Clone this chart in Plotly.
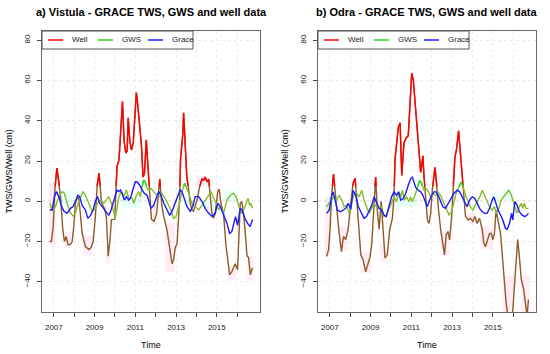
import plotly.graph_objects as go

# ---------------- data ----------------
THR = 7.5  # level above which the lines appear in their pure colours

vis_well_t = [2006.80, 2006.88, 2006.97, 2007.05, 2007.15, 2007.25, 2007.33, 2007.44, 2007.52, 2007.60,
              2007.70, 2007.82, 2007.90, 2007.98, 2008.06, 2008.18, 2008.27, 2008.39, 2008.55, 2008.72,
              2008.83, 2008.93, 2009.04, 2009.13, 2009.22, 2009.34, 2009.50, 2009.58, 2009.67, 2009.75,
              2009.83, 2009.99, 2010.10, 2010.20, 2010.37, 2010.45, 2010.53, 2010.60, 2010.65, 2010.73,
              2010.81, 2010.90, 2011.05, 2011.10, 2011.18, 2011.30, 2011.38, 2011.45, 2011.54, 2011.66,
              2011.79, 2011.92, 2012.05, 2012.20, 2012.30, 2012.40, 2012.55, 2012.70, 2012.80, 2012.88,
              2012.96, 2013.05, 2013.18, 2013.22, 2013.28, 2013.33, 2013.37, 2013.45, 2013.53, 2013.62,
              2013.70, 2013.78, 2013.86, 2014.03, 2014.15, 2014.27, 2014.35, 2014.43, 2014.52, 2014.60,
              2014.68, 2014.76, 2014.84, 2014.92, 2015.05, 2015.12, 2015.20, 2015.33, 2015.45, 2015.63,
              2015.74, 2015.90, 2016.02, 2016.15, 2016.23, 2016.31, 2016.40, 2016.48, 2016.56, 2016.64,
              2016.69, 2016.75]
vis_well_v = [-20, -20, -12.6, 5.6, 16.5, 9.7, 2.3, -14, -20, -17.5,
              -21.7, -21.3, -20, -12.6, -1, 3, -2.7, -16, -22.5, -24,
              -23, -20, -7.6, 8, 14, -0.7, -4, -8, -27.3, -20,
              -9.1, -9, 17.3, 20.6, 49.5, 30, 24, 25, 41.5, 30,
              25.5, 29, 54, 50, 40.4, 28, 12, 14, 30.5, 11,
              -9, -10, -6, 11, -2, -7.6, -14, -24, -31, -29,
              -23, -21, 2, 21, 28, 33, 44, 29, 12, 5.6,
              -1, -4.3, -5, 0.6, 7, 11, 10.5, 12, 9.7, 11,
              2.3, -6, -8.5, -6, 5, 6, -1, -6, -22, -36.5,
              -35, -31, -34, -1, -0.2, -6, -16, -27, -28, -36.5,
              -35, -33]

vis_gws_t = [2006.80, 2006.92, 2007.08, 2007.25, 2007.41, 2007.52, 2007.65, 2007.82, 2007.95, 2008.06,
             2008.22, 2008.44, 2008.55, 2008.72, 2008.88, 2009.04, 2009.15, 2009.29, 2009.45, 2009.58,
             2009.70, 2009.86, 2010.02, 2010.19, 2010.30, 2010.43, 2010.56, 2010.68, 2010.84, 2010.92,
             2011.03, 2011.16, 2011.25, 2011.33, 2011.41, 2011.49, 2011.58, 2011.66, 2011.77, 2011.90,
             2012.07, 2012.19, 2012.30, 2012.46, 2012.64, 2012.75, 2012.88, 2013.00, 2013.14, 2013.29,
             2013.42, 2013.62, 2013.78, 2013.94, 2014.11, 2014.27, 2014.43, 2014.60, 2014.72, 2014.84,
             2014.97, 2015.09, 2015.20, 2015.33, 2015.50, 2015.66, 2015.82, 2015.95, 2016.07, 2016.19,
             2016.32, 2016.45, 2016.53, 2016.62, 2016.67, 2016.75]
vis_gws_v = [-1, -4.3, -2.7, 2.3, 4.8, 4, -1, -6, -7.3, -6,
             0, 4.8, 3, -1, -5, -3.5, -1, 0.6, -1, 0.6,
             2.3, -2, -8.5, 2.3, 4.8, 2.3, 5.6, 1.5, 1.5, -1,
             2.3, 4.8, 2.3, 7, 10.5, 9.7, 6.4, 5.6, 6.4, 4.8,
             3, 2.3, 4, 1.5, -2.6, -4.3, -8.5, -7.6, -2, 4.8,
             8.9, 4, -1, -2.6, -4.3, -2, 0.6, 3, 4.8, 1.5,
             -1, -4.3, -2.6, -6, 0.6, 3, 4, 2.3, -2.6, -6,
             -4.3, -1, 1.5, -2, -1, -3.5]

vis_grace_t = [2006.80, 2006.92, 2007.03, 2007.13, 2007.25, 2007.36, 2007.50, 2007.65, 2007.82, 2007.95,
               2008.06, 2008.18, 2008.27, 2008.39, 2008.55, 2008.67, 2008.80, 2008.93, 2009.04, 2009.15,
               2009.25, 2009.37, 2009.53, 2009.70, 2009.81, 2009.94, 2010.10, 2010.19, 2010.27, 2010.35,
               2010.46, 2010.56, 2010.68, 2010.76, 2010.89, 2011.00, 2011.08, 2011.22, 2011.33, 2011.44,
               2011.58, 2011.66, 2011.77, 2011.90, 2012.03, 2012.15, 2012.26, 2012.40, 2012.56, 2012.69,
               2012.80, 2012.92, 2013.05, 2013.20, 2013.29, 2013.40, 2013.53, 2013.70, 2013.82, 2013.94,
               2014.11, 2014.27, 2014.43, 2014.60, 2014.76, 2014.92, 2015.04, 2015.17, 2015.33, 2015.50,
               2015.63, 2015.74, 2015.82, 2015.92, 2016.02, 2016.15, 2016.23, 2016.40, 2016.56, 2016.64,
               2016.75]
vis_grace_v = [-4.3, -4.3, 2.3, 4.8, 2.3, -2, -5, -6, -3.5, -2.6,
               0, 3, 2.3, -2, -4.3, -8.5, -7, -4.3, 0, 2.3,
               -1, -2.6, -5, -7, -4.3, 0.6, 5.6, 4.8, 5.6, 4,
               0.6, 2.3, 0.6, 1.5, 5.6, 9.7, 9.7, 8, 5.6, 4,
               3, 0, -3.5, -2, 1.5, 4.8, 3, -1, -4.3, -7,
               -5, -2, 1.5, 5.6, 4.8, 1.5, -2.6, -5, -2.6, 2.3,
               2.3, 0, -3.5, -6, -7.6, -6, -1, -2.6, -7, -11,
               -16, -15, -11.7, -7.6, -12, -3.5, -4.3, -9, -11.7, -12.6,
               -9]

odr_well_t = [2006.84, 2006.94, 2007.02, 2007.08, 2007.18, 2007.26, 2007.34, 2007.46, 2007.57, 2007.67,
              2007.78, 2007.90, 2008.03, 2008.14, 2008.24, 2008.32, 2008.41, 2008.52, 2008.63, 2008.76,
              2008.87, 2008.98, 2009.06, 2009.17, 2009.25, 2009.33, 2009.42, 2009.52, 2009.71, 2009.82,
              2009.94, 2010.07, 2010.15, 2010.20, 2010.27, 2010.36, 2010.45, 2010.53, 2010.64, 2010.75,
              2010.85, 2010.94, 2011.02, 2011.10, 2011.18, 2011.26, 2011.37, 2011.46, 2011.51, 2011.57,
              2011.62, 2011.70, 2011.79, 2011.87, 2011.95, 2012.03, 2012.16, 2012.24, 2012.32, 2012.44,
              2012.55, 2012.63, 2012.71, 2012.80, 2012.88, 2012.98, 2013.06, 2013.14, 2013.22, 2013.32,
              2013.42, 2013.50, 2013.58, 2013.66, 2013.79, 2013.90, 2014.02, 2014.12, 2014.23, 2014.35,
              2014.48, 2014.56, 2014.64, 2014.73, 2014.84, 2014.93, 2015.00, 2015.08, 2015.16, 2015.38,
              2015.54, 2015.65, 2015.75, 2015.90, 2015.98, 2016.08, 2016.14, 2016.22, 2016.30, 2016.40,
              2016.52, 2016.63, 2016.68, 2016.75]
odr_well_v = [-27.4, -24, -12.6, 2, 13.5, 5.5, -6, -16, -25, -17.5,
              -19, -14, -1, 8.8, 11.5, 2.2, -11, -26.6, -29, -35,
              -31.5, -27.4, -21, 2.2, 12, -4.4, -14, 0, -28.2, -26.6,
              -14, -8.5, 2.2, 21, 27.5, 36.6, 39, 12.8, 29, 31.6,
              32.5, 50.5, 63.6, 60, 49, 43, 27.5, 14.4, 17.7, 22.6,
              12.8, 2.2, -9.3, -11, -6, 5.5, 16.9, 8.8, -2.7, -14,
              -22.5, -26.6, -16.7, -15, -19.2, -7.6, 7, 21.8, 25.9, 35,
              22.6, 12.8, 2.2, -7.6, -9.3, -8.5, -10, -7.6, -11, -8.5,
              -14, -20.8, -22.5, -19.2, -16, -16, -19.2, -16, -4.4, -16,
              -37, -50, -58, -62, -54.5, -39, -27.4, -19, -27, -39,
              -44, -53.7, -57, -48.8]

odr_gws_t = [2006.84, 2006.97, 2007.08, 2007.20, 2007.33, 2007.46, 2007.59, 2007.70, 2007.82, 2007.95,
             2008.03, 2008.14, 2008.27, 2008.44, 2008.57, 2008.68, 2008.80, 2008.93, 2009.06, 2009.17,
             2009.29, 2009.42, 2009.55, 2009.66, 2009.79, 2009.90, 2010.03, 2010.15, 2010.27, 2010.40,
             2010.48, 2010.56, 2010.66, 2010.76, 2010.89, 2010.97, 2011.05, 2011.18, 2011.30, 2011.41,
             2011.51, 2011.62, 2011.74, 2011.84, 2011.95, 2012.06, 2012.19, 2012.30, 2012.43, 2012.60,
             2012.71, 2012.85, 2012.98, 2013.09, 2013.20, 2013.33, 2013.45, 2013.55, 2013.66, 2013.79,
             2013.90, 2014.02, 2014.15, 2014.26, 2014.40, 2014.48, 2014.59, 2014.72, 2014.84, 2014.97,
             2015.08, 2015.16, 2015.29, 2015.41, 2015.54, 2015.65, 2015.78, 2015.88, 2015.98, 2016.08,
             2016.19, 2016.30, 2016.40, 2016.47, 2016.55, 2016.63, 2016.75]
odr_gws_v = [-2.7, -1, 0.6, 2.2, 0.6, 3, 0.6, -2.7, -1.9, -6,
             -3.5, 2.2, 4.7, 2.2, 5.5, 0.6, -2.7, -6, -3.5, -1,
             -2.7, -3.5, -2.7, -7.6, -6.8, -3.5, -1, 2.2, -0.2, 4.7,
             2.2, 5.5, 0.6, 2.2, -0.2, 2.2, -0.2, 3, 7, 10.4,
             8.8, 5.5, 6.3, 4.7, 2.2, 3.9, 3, 4.7, 3, -1,
             -3.5, -6.8, -5.2, -0.2, 3.9, 7, 9.6, 7, 3, -0.2,
             -2.7, -4.4, -1.9, 0.6, 3, 5.5, 3, -0.2, -2.7, -4.4,
             -2.7, -6, -3.5, 0.6, 2.2, 3.9, 5.5, 3.9, 0.6, -3.5,
             -6, -2.7, -1, -3.5, -1, -3.5, -3.5]

odr_grace_t = [2006.84, 2006.97, 2007.08, 2007.16, 2007.26, 2007.37, 2007.54, 2007.67, 2007.78, 2007.91,
               2008.03, 2008.14, 2008.27, 2008.40, 2008.57, 2008.68, 2008.80, 2008.93, 2009.06, 2009.17,
               2009.29, 2009.42, 2009.54, 2009.66, 2009.77, 2009.90, 2010.03, 2010.15, 2010.27, 2010.37,
               2010.48, 2010.60, 2010.72, 2010.85, 2010.97, 2011.05, 2011.13, 2011.21, 2011.34, 2011.46,
               2011.57, 2011.67, 2011.78, 2011.87, 2012.00, 2012.11, 2012.22, 2012.32, 2012.43, 2012.55,
               2012.68, 2012.81, 2012.93, 2013.09, 2013.25, 2013.37, 2013.50, 2013.61, 2013.74, 2013.86,
               2013.99, 2014.12, 2014.23, 2014.35, 2014.48, 2014.60, 2014.72, 2014.84, 2014.97, 2015.05,
               2015.13, 2015.26, 2015.38, 2015.49, 2015.62, 2015.70, 2015.82, 2015.92, 2015.98, 2016.08,
               2016.19, 2016.30, 2016.43, 2016.57, 2016.68, 2016.75]
odr_grace_v = [-6, -4.4, 2.2, 4.7, 0.6, -4.4, -5.2, -4.4, -3.5, -1,
               -4, 5.5, 3, -2.7, -6.8, -8.5, -7.6, -4.4, -1.9, 2.2,
               -0.2, -3.5, -4.4, -6.8, -7.6, -2.7, 2.2, 4.7, 3, 4.7,
               0.6, 1.4, 3.9, 8, 11.3, 12, 9.6, 7, 5.5, 4.7,
               3, -0.2, -2.7, -0.2, 3, 4.7, 4.7, 3, -0.2, -2.7,
               -3.5, -1, 0.6, 3.9, 5.5, 4.7, 2.2, -0.2, -2.7, 0.6,
               2.2, 1.4, -1, -3.5, -5.2, -6, -6, -3.5, 0.6, 2.2,
               -0.2, -4.4, -6.8, -9.3, -13.4, -14, -11, -6, -9.3, -0.2,
               -1.9, -5.2, -6.8, -7.6, -6.8, -6]

# faint background bands: (start, end, low, high)
vis_pink = [(2006.75, 2007.10, -22.5, 9), (2007.55, 2007.85, -23, -15), (2008.45, 2008.90, -27, -17),
            (2009.55, 2009.75, -31, -26), (2011.85, 2012.00, -11, -2), (2012.45, 2012.95, -35, -11),
            (2014.00, 2014.60, 8, 12.5), (2015.55, 2015.95, -39, -32), (2016.50, 2016.80, -39, -27)]
vis_cyan = [(2007.30, 2007.90, -2.7, 5.5), (2008.15, 2008.60, 0, 5), (2010.30, 2011.30, -3.5, 2),
            (2013.40, 2013.70, -2, 2), (2014.40, 2014.90, -4.3, 0.6), (2015.40, 2015.90, 0, 5.5)]
odr_pink = [(2006.75, 2007.05, -27, 2), (2007.45, 2007.90, -25, -12.6), (2008.50, 2009.00, -35.7, -25),
            (2009.45, 2009.75, -30, -21), (2012.45, 2012.90, -27, -15), (2013.75, 2014.20, -11, -6),
            (2014.40, 2015.00, -24, -12.6), (2015.50, 2016.00, -55, -37), (2016.40, 2016.80, -55, -37)]
odr_cyan = [(2006.80, 2007.20, -4.4, 2.2), (2010.20, 2011.30, -2.7, 2.2), (2014.90, 2015.30, -1, 3.9),
            (2015.50, 2016.00, 0.6, 5.5)]

years = list(range(2007, 2017))
year_labels = [str(y) if y % 2 == 1 else "" for y in years]
y_ticks = [-40, -20, 0, 20, 40, 60, 80]

titles = ["a) Vistula - GRACE TWS, GWS and well data", "b) Odra - GRACE TWS, GWS and well data"]
series_names = ["Well", "GWS", "Grace"]

# ---------------- helpers ----------------
def split_above(x, y, thr):
    ox, oy = [], []
    for i in range(len(x)):
        if i > 0:
            y0, y1 = y[i - 1], y[i]
            if (y0 - thr) * (y1 - thr) < 0:
                xc = x[i - 1] + (thr - y0) * (x[i] - x[i - 1]) / (y1 - y0)
                ox.append(xc); oy.append(thr)
                if y1 < thr:
                    ox.append(None); oy.append(None)
        if y[i] >= thr:
            ox.append(x[i]); oy.append(y[i])
    return ox, oy

def band_poly(bands):
    bx, by = [], []
    for (a, b, lo, hi) in bands:
        bx += [a, b, b, a, a, None]
        by += [lo, lo, hi, hi, lo, None]
    return bx, by

RED, GREEN, BLUE = "#ff0000", "#22dd22", "#1a1aff"
BROWN, OLIVE = "#8f5a26", "#86bb2c"
FONT = "Liberation Sans, Arial, sans-serif"
LW = 1.4

fig = go.Figure()

panels = [
    (vis_well_t, vis_well_v, vis_gws_t, vis_gws_v, vis_grace_t, vis_grace_v, vis_pink, vis_cyan),
    (odr_well_t, odr_well_v, odr_gws_t, odr_gws_v, odr_grace_t, odr_grace_v, odr_pink, odr_cyan),
]

for k, (wt, wv, gt, gv, rt, rv, pink, cyan) in enumerate(panels):
    xa = "x" if k == 0 else "x2"
    ya = "y" if k == 0 else "y2"
    px_, py_ = band_poly(pink)
    fig.add_trace(go.Scatter(x=px_, y=py_, fill="toself", fillcolor="rgba(255,170,215,0.22)",
                             line=dict(width=0), mode="lines", hoverinfo="skip", xaxis=xa, yaxis=ya))
    cx_, cy_ = band_poly(cyan)
    fig.add_trace(go.Scatter(x=cx_, y=cy_, fill="toself", fillcolor="rgba(150,255,235,0.25)",
                             line=dict(width=0), mode="lines", hoverinfo="skip", xaxis=xa, yaxis=ya))
    fig.add_trace(go.Scatter(x=wt, y=wv, mode="lines", line=dict(color=BROWN, width=LW), xaxis=xa, yaxis=ya))
    fig.add_trace(go.Scatter(x=gt, y=gv, mode="lines", line=dict(color=OLIVE, width=LW), xaxis=xa, yaxis=ya))
    ax_, ay_ = split_above(wt, wv, THR)
    fig.add_trace(go.Scatter(x=ax_, y=ay_, mode="lines", name="Well", line=dict(color=RED, width=LW),
                             xaxis=xa, yaxis=ya))
    bx_, by_ = split_above(gt, gv, THR)
    fig.add_trace(go.Scatter(x=bx_, y=by_, mode="lines", name="GWS", line=dict(color=GREEN, width=LW),
                             xaxis=xa, yaxis=ya))
    fig.add_trace(go.Scatter(x=rt, y=rv, mode="lines", name="Grace", line=dict(color=BLUE, width=LW),
                             xaxis=xa, yaxis=ya))

W, H = 550, 354
x_dom = [[42 / W, 260 / W], [318 / W, 536 / W]]
y_dom = [1 - 312 / H, 1 - 31 / H]

common_x = dict(range=[2006.42, 2017.12], tickmode="array", tickvals=years, ticktext=year_labels,
                ticks="outside", ticklen=4, tickcolor="#444", showline=True, linecolor="#666",
                mirror=True, showgrid=True, gridcolor="#ececec", griddash="dot", zeroline=False,
                ticklabelstandoff=3, tickfont=dict(family=FONT, size=8, color="#222"))
common_y = dict(range=[-55, 84.6], tickmode="array", tickvals=y_ticks, ticks="outside", ticklen=4,
                tickcolor="#444", showline=True, linecolor="#666", mirror=True, showgrid=True,
                gridcolor="#ececec", griddash="dot", zeroline=False, tickangle=-90,
                ticklabelstandoff=4, tickfont=dict(family=FONT, size=8, color="#222"))

fig.update_layout(
    width=W, height=H, margin=dict(l=0, r=0, t=0, b=0), showlegend=False,
    paper_bgcolor="white", plot_bgcolor="white",
    xaxis=dict(domain=x_dom[0], anchor="y", **common_x),
    yaxis=dict(domain=y_dom, anchor="x", **common_y),
    xaxis2=dict(domain=x_dom[1], anchor="y2", **common_x),
    yaxis2=dict(domain=y_dom, anchor="x2", **common_y),
)

shapes = []
annots = []
key_colors = [RED, GREEN, BLUE]
for k in range(2):
    xr = "x" if k == 0 else "x2"
    yr = "y" if k == 0 else "y2"
    # dotted zero reference line
    shapes.append(dict(type="line", xref=xr + " domain", yref=yr, x0=0, x1=1, y0=0, y1=0,
                       line=dict(color="#9a9a9a", width=1, dash="dot"), layer="below"))
    # legend box (R style, top-left inside the panel)
    left = x_dom[k][0] * W
    shapes.append(dict(type="rect", xref="paper", yref="paper",
                       x0=left / W, x1=(left + 151) / W, y0=1 - 49 / H, y1=1 - 31 / H,
                       line=dict(color="#555", width=1), fillcolor="white", layer="above"))
    for j, name in enumerate(series_names):
        sx = left + 6 + 50 * j
        shapes.append(dict(type="line", xref="paper", yref="paper", x0=sx / W, x1=(sx + 15) / W,
                           y0=1 - 40 / H, y1=1 - 40 / H, line=dict(color=key_colors[j], width=1.5),
                           layer="above"))
        annots.append(dict(text=name, x=(sx + 22) / W, y=1 - 40 / H, xref="paper", yref="paper",
                           xanchor="left", yanchor="middle", showarrow=False,
                           font=dict(family=FONT, size=8, color="#222")))
    cx = (x_dom[k][0] + x_dom[k][1]) / 2
    annots.append(dict(text="<b>" + titles[k] + "</b>", x=cx, y=1 - 12 / H, xref="paper", yref="paper",
                       xanchor="center", yanchor="middle", showarrow=False,
                       font=dict(family=FONT, size=11, color="black")))
    annots.append(dict(text="Time", x=cx, y=1 - 345 / H, xref="paper", yref="paper",
                       xanchor="center", yanchor="middle", showarrow=False,
                       font=dict(family=FONT, size=9, color="black")))
    annots.append(dict(text="TWS/GWS/Well (cm)", x=(left - 34) / W, y=(y_dom[0] + y_dom[1]) / 2,
                       xref="paper", yref="paper", xanchor="center", yanchor="middle", showarrow=False,
                       textangle=-90, font=dict(family=FONT, size=9, color="black")))
fig.update_layout(shapes=shapes, annotations=annots)

fig.write_html("out.html", config={"displayModeBar": False, "staticPlot": True},
               post_script="document.body.style.margin='0';document.body.style.overflow='hidden';")
